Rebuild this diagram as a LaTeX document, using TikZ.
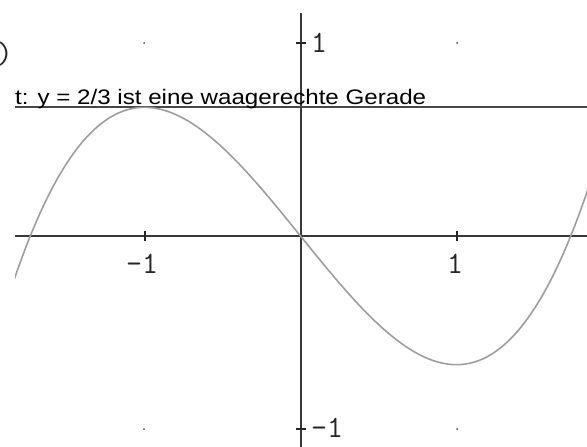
\documentclass[tikz,border=0pt]{standalone}
\usepackage{fontspec}
\usepackage{graphicx}
\newfontfamily\labelfont{Liberation Sans}
\tikzset{
  axisline/.style={line width=2pt, draw=black!78},
  tangentline/.style={line width=2pt, draw=black!72},
  curveline/.style={line width=1.6pt, draw=black!38},
  tickline/.style={line width=1.4pt, draw=black!85},
  ticklabel/.style={font=\fontsize{31}{31}\selectfont\ttfamily, inner sep=0pt, text=black!85},
  griddot/.style={circle, fill=black!70, inner sep=0pt, minimum size=2pt},
}
\begin{document}
\begin{tikzpicture}[x=1pt,y=-1pt]
\useasboundingbox (0,0) rectangle (587,447);
% axes
\coordinate (xl) at (15,236);
\coordinate (xr) at (587,236);
\coordinate (yt) at (300.5,13);
\coordinate (yb) at (300.5,447);
\draw[axisline] (xl) -- (xr);
\draw[axisline] (yt) -- (yb);
% horizontal line y = 2/3
\coordinate (tl) at (15,107);
\coordinate (tr) at (587,107);
\draw[tangentline] (tl) -- (tr);
% curve
\begin{scope}
\clip (15,0) rectangle (587,447);
\draw[curveline, domain=-1.84:1.85, samples=200, smooth, variable=\t]
  plot ({300.5+156*\t},{236-193*(\t*\t*\t/3-\t)});
\end{scope}
% ticks
\coordinate (xm1) at (145,236);
\coordinate (xp1) at (457,236);
\coordinate (yp1) at (300.5,43);
\coordinate (ym1) at (300.5,429);
\draw[tickline] ([yshift=-5pt]xm1) -- ([yshift=5pt]xm1);
\draw[tickline] ([yshift=-5pt]xp1) -- ([yshift=5pt]xp1);
\draw[tickline] ([xshift=-5pt]yp1) -- ([xshift=5pt]yp1);
\draw[tickline] ([xshift=-5pt]ym1) -- ([xshift=5pt]ym1);
% tick labels
\node[ticklabel] (lxm1) at (142,264) {-1};
\node[ticklabel] (lxp1) at (455,264) {1};
\node[ticklabel, anchor=west] (lyp1) at (311,43) {1};
\node[ticklabel, anchor=west] (lym1) at (311,428) {-1};
\node[ticklabel, anchor=east] (paren) at (13,54) {)};
% grid dots
\node[griddot] (d1) at (144,43) {};
\node[griddot] (d2) at (457,43) {};
\node[griddot] (d3) at (144,429) {};
\node[griddot] (d4) at (457,429) {};
% caption text
\node[anchor=base west, inner sep=0pt, font=\labelfont\fontsize{21}{21}\selectfont] (cap) at (15,104)
  {\scalebox{1.15}[1]{t: y = 2/3 ist eine waagerechte Gerade}};
\end{tikzpicture}
\end{document}
